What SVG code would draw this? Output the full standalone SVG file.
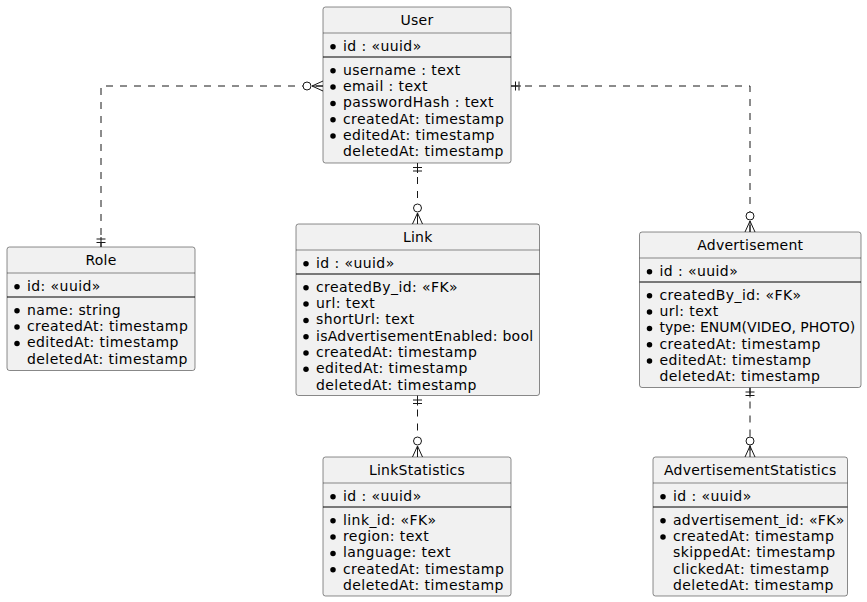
<svg xmlns="http://www.w3.org/2000/svg" xmlns:xlink="http://www.w3.org/1999/xlink" width="867" height="602" viewBox="0 0 867 602">
<style>
  text { font-family: "DejaVu Sans", "Liberation Sans", sans-serif; font-size: 14px; fill: #000; letter-spacing: 0.42px; }
  .h { text-anchor: middle; letter-spacing: 0.25px; }
  .tight { letter-spacing: 0; }
  .mid { letter-spacing: 0.28px; }
  .box { fill: #F1F1F1; stroke: #181818; stroke-width: 0.5; }
  .sep { stroke: #181818; stroke-width: 0.5; fill: none; }
  .solid { stroke: #000; stroke-width: 1; fill: none; }
  .dot { fill: #000; }
  .conn { stroke: #181818; stroke-width: 1; fill: none; stroke-dasharray: 7 7; }
  .mk { stroke: #181818; stroke-width: 1; fill: none; }
  .mkc { stroke: #181818; stroke-width: 1; fill: #FFFFFF; }
</style>
<defs>
  <g id="many0">
    <path class="mk" d="M0,-11 L-5,0 M0,-11 L5,0 M0,-11 L0,0"/>
    <circle class="mkc" cx="0" cy="-16" r="4"/>
  </g>
  <g id="one">
    <path class="mk" d="M0,0 L0,-10 M-4.5,-4.5 L4.5,-4.5 M-4.5,-8 L4.5,-8"/>
  </g>
</defs>

<g id="connectors">
  <path class="conn" d="M323,86 L101,86 L101,247"/>
  <path class="conn" d="M417.5,163 L417.5,224"/>
  <path class="conn" d="M511,86 L750,86 L750,232"/>
  <path class="conn" d="M417.5,395.5 L417.5,457"/>
  <path class="conn" d="M750,387.5 L750,457"/>
  <use xlink:href="#many0" href="#many0" transform="translate(323,86) rotate(-90)"/>
  <use xlink:href="#one" href="#one" transform="translate(101,247)"/>
  <use xlink:href="#one" href="#one" transform="translate(417.5,163) rotate(180)"/>
  <use xlink:href="#many0" href="#many0" transform="translate(417.5,224)"/>
  <use xlink:href="#one" href="#one" transform="translate(511,86) rotate(90)"/>
  <use xlink:href="#many0" href="#many0" transform="translate(750,232)"/>
  <use xlink:href="#one" href="#one" transform="translate(417.5,395.5) rotate(180)"/>
  <use xlink:href="#many0" href="#many0" transform="translate(417.5,457)"/>
  <use xlink:href="#one" href="#one" transform="translate(750,387.5) rotate(180)"/>
  <use xlink:href="#many0" href="#many0" transform="translate(750,457)"/>
</g>

<g id="User">
  <rect class="box" x="323" y="7" width="188" height="156" rx="2.5"/>
  <line class="sep" x1="323" y1="33" x2="511" y2="33"/>
  <line class="solid" x1="323" y1="57" x2="511" y2="57"/>
  <text class="h" x="417" y="25">User</text>
  <circle class="dot" cx="333" cy="46.7" r="2.75"/>
  <text x="343" y="50.7">id : «uuid»</text>
  <circle class="dot" cx="333" cy="70.8" r="2.75"/>
  <text x="343" y="74.8">username : text</text>
  <circle class="dot" cx="333" cy="87.1" r="2.75"/>
  <text x="343" y="91.1">email : text</text>
  <circle class="dot" cx="333" cy="103.4" r="2.75"/>
  <text x="343" y="107.4">passwordHash : text</text>
  <circle class="dot" cx="333" cy="119.7" r="2.75"/>
  <text x="343" y="123.7">createdAt: timestamp</text>
  <circle class="dot" cx="333" cy="136" r="2.75"/>
  <text x="343" y="140">editedAt: timestamp</text>
  <text x="343" y="156.3">deletedAt: timestamp</text>
</g>

<g id="Role">
  <rect class="box" x="7" y="247" width="188" height="123.5" rx="2.5"/>
  <line class="sep" x1="7" y1="273" x2="195" y2="273"/>
  <line class="solid" x1="7" y1="297" x2="195" y2="297"/>
  <text class="h" x="101" y="265">Role</text>
  <circle class="dot" cx="17" cy="286.7" r="2.75"/>
  <text x="27" y="290.7">id: «uuid»</text>
  <circle class="dot" cx="17" cy="310.8" r="2.75"/>
  <text x="27" y="314.8">name: string</text>
  <circle class="dot" cx="17" cy="327.1" r="2.75"/>
  <text x="27" y="331.1">createdAt: timestamp</text>
  <circle class="dot" cx="17" cy="343.4" r="2.75"/>
  <text x="27" y="347.4">editedAt: timestamp</text>
  <text x="27" y="363.7">deletedAt: timestamp</text>
</g>

<g id="Link">
  <rect class="box" x="296" y="224" width="243.5" height="171.5" rx="2.5"/>
  <line class="sep" x1="296" y1="250" x2="539.5" y2="250"/>
  <line class="solid" x1="296" y1="274" x2="539.5" y2="274"/>
  <text class="h" x="417.75" y="242">Link</text>
  <circle class="dot" cx="306" cy="263.7" r="2.75"/>
  <text x="316" y="267.7">id : «uuid»</text>
  <circle class="dot" cx="306" cy="287.8" r="2.75"/>
  <text x="316" y="291.8">createdBy_id: «FK»</text>
  <circle class="dot" cx="306" cy="304.1" r="2.75"/>
  <text x="316" y="308.1">url: text</text>
  <circle class="dot" cx="306" cy="320.4" r="2.75"/>
  <text x="316" y="324.4">shortUrl: text</text>
  <circle class="dot" cx="306" cy="336.7" r="2.75"/>
  <text class="mid" x="316" y="340.7">isAdvertisementEnabled: bool</text>
  <circle class="dot" cx="306" cy="353" r="2.75"/>
  <text x="316" y="357">createdAt: timestamp</text>
  <circle class="dot" cx="306" cy="369.3" r="2.75"/>
  <text x="316" y="373.3">editedAt: timestamp</text>
  <text x="316" y="389.6">deletedAt: timestamp</text>
</g>

<g id="LinkStatistics">
  <rect class="box" x="323" y="457" width="188" height="139" rx="2.5"/>
  <line class="sep" x1="323" y1="483" x2="511" y2="483"/>
  <line class="solid" x1="323" y1="507" x2="511" y2="507"/>
  <text class="h" x="417" y="475">LinkStatistics</text>
  <circle class="dot" cx="333" cy="496.7" r="2.75"/>
  <text x="343" y="500.7">id : «uuid»</text>
  <circle class="dot" cx="333" cy="520.8" r="2.75"/>
  <text x="343" y="524.8">link_id: «FK»</text>
  <circle class="dot" cx="333" cy="537.1" r="2.75"/>
  <text x="343" y="541.1">region: text</text>
  <circle class="dot" cx="333" cy="553.4" r="2.75"/>
  <text x="343" y="557.4">language: text</text>
  <circle class="dot" cx="333" cy="569.7" r="2.75"/>
  <text x="343" y="573.7">createdAt: timestamp</text>
  <text x="343" y="590">deletedAt: timestamp</text>
</g>

<g id="Advertisement">
  <rect class="box" x="639.5" y="232" width="221.5" height="155.5" rx="2.5"/>
  <line class="sep" x1="639.5" y1="258" x2="861" y2="258"/>
  <line class="solid" x1="639.5" y1="282" x2="861" y2="282"/>
  <text class="h" x="750.25" y="250">Advertisement</text>
  <circle class="dot" cx="649.5" cy="271.7" r="2.75"/>
  <text x="659.5" y="275.7">id : «uuid»</text>
  <circle class="dot" cx="649.5" cy="295.8" r="2.75"/>
  <text x="659.5" y="299.8">createdBy_id: «FK»</text>
  <circle class="dot" cx="649.5" cy="312.1" r="2.75"/>
  <text x="659.5" y="316.1">url: text</text>
  <circle class="dot" cx="649.5" cy="328.4" r="2.75"/>
  <text class="tight" x="659.5" y="332.4">type: ENUM(VIDEO, PHOTO)</text>
  <circle class="dot" cx="649.5" cy="344.7" r="2.75"/>
  <text x="659.5" y="348.7">createdAt: timestamp</text>
  <circle class="dot" cx="649.5" cy="361" r="2.75"/>
  <text x="659.5" y="365">editedAt: timestamp</text>
  <text x="659.5" y="381.3">deletedAt: timestamp</text>
</g>

<g id="AdvertisementStatistics">
  <rect class="box" x="653" y="457" width="194.5" height="139" rx="2.5"/>
  <line class="sep" x1="653" y1="483" x2="847.5" y2="483"/>
  <line class="solid" x1="653" y1="507" x2="847.5" y2="507"/>
  <text class="h" x="750.25" y="475">AdvertisementStatistics</text>
  <circle class="dot" cx="663" cy="496.7" r="2.75"/>
  <text x="673" y="500.7">id : «uuid»</text>
  <circle class="dot" cx="663" cy="520.8" r="2.75"/>
  <text class="mid" x="673" y="524.8">advertisement_id: «FK»</text>
  <circle class="dot" cx="663" cy="537.1" r="2.75"/>
  <text x="673" y="541.1">createdAt: timestamp</text>
  <text x="673" y="557.4">skippedAt: timestamp</text>
  <text x="673" y="573.7">clickedAt: timestamp</text>
  <text x="673" y="590">deletedAt: timestamp</text>
</g>
</svg>
